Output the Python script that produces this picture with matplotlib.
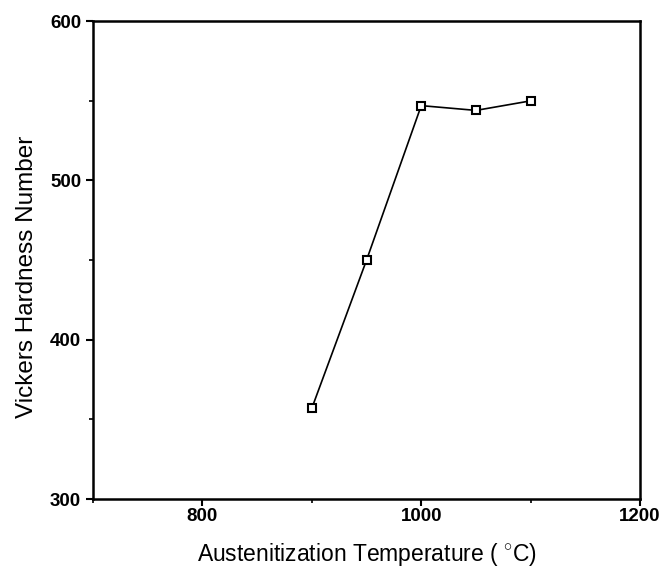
import matplotlib
matplotlib.use("Agg")
import matplotlib.pyplot as plt
from matplotlib.ticker import MultipleLocator

temperature = [900, 950, 1000, 1050, 1100]          # austenitization temperature [C]
hardness = [357, 450, 547, 544, 550]                # Vickers hardness number

plt.rcParams['font.family'] = ['Liberation Sans', 'DejaVu Sans']
plt.rcParams['mathtext.fontset'] = 'custom'
plt.rcParams['mathtext.rm'] = 'Liberation Sans'

fig = plt.figure(figsize=(6.64, 5.73), dpi=100)
ax = fig.add_axes([0.140, 0.129, 0.824, 0.834])

ax.plot(temperature, hardness, color='black', linewidth=1.2,
        marker='s', markersize=6, markerfacecolor='white',
        markeredgecolor='black', markeredgewidth=1.5)

ax.set_xlim(700, 1200)
ax.set_ylim(300, 600)
ax.xaxis.set_minor_locator(MultipleLocator(100))
ax.yaxis.set_major_locator(MultipleLocator(100))
ax.yaxis.set_minor_locator(MultipleLocator(50))
ax.set_xticks([800, 1000, 1200])

ax.tick_params(which='major', direction='out', length=5, width=1.5,
               labelsize=13.5, top=False, right=False)
ax.tick_params(axis='x', which='major', pad=1.5)
ax.tick_params(which='minor', direction='out', length=3, width=1.2,
               top=False, right=False)
for lab in ax.get_xticklabels() + ax.get_yticklabels():
    lab.set_fontweight('bold')
for s in ax.spines.values():
    s.set_linewidth(1.8)

ax.set_xlabel('Austenitization Temperature ( $^{\\circ}$C)', fontsize=16.5)
ax.set_ylabel('Vickers Hardness Number', fontsize=17.5)
ax.xaxis.set_label_coords(0.5, -0.088)
ax.yaxis.set_label_coords(-0.10, 0.464)

fig.savefig("out.png", dpi=100)
